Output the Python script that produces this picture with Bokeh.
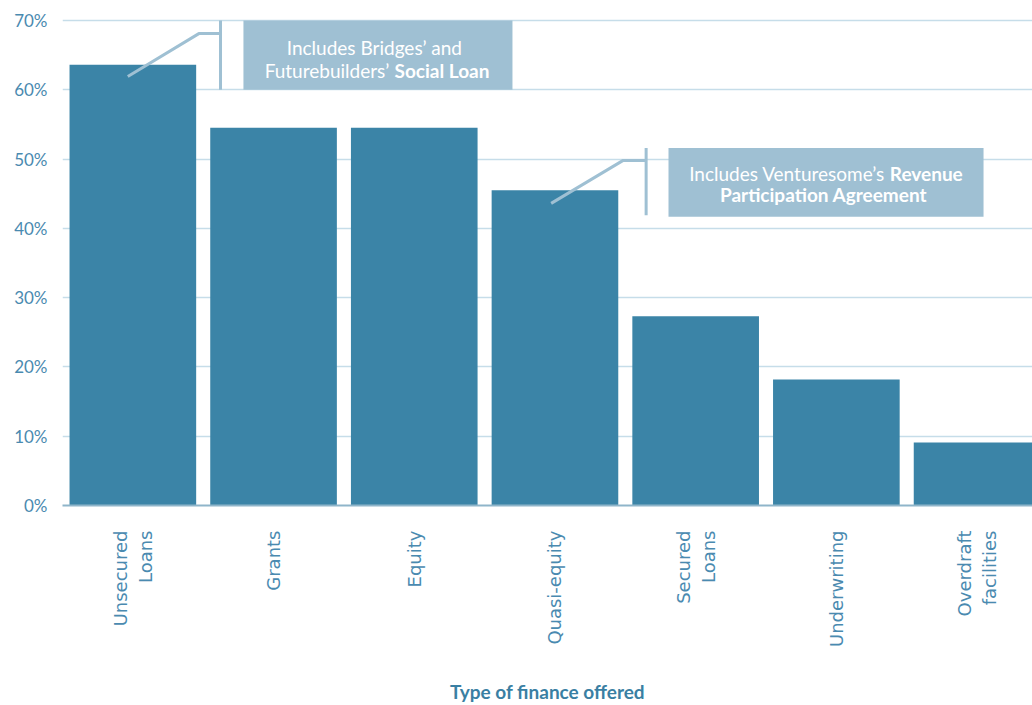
from math import pi

from bokeh.core.properties import value
from bokeh.embed import file_html
from bokeh.models import FixedTicker, PrintfTickFormatter, Range1d
from bokeh.plotting import figure
from bokeh.resources import INLINE

# Share of providers offering each type of finance (%)
categories = ["Unsecured\nLoans", "Grants", "Equity", "Quasi-equity",
              "Secured\nLoans", "Underwriting", "Overdraft\nfacilities"]
share_pct = [63.6, 54.5, 54.5, 45.5, 27.3, 18.2, 9.1]
y_ticks = [0, 10, 20, 30, 40, 50, 60, 70]
x_title = "Type of finance offered"

BAR = "#3b84a7"
BOX = "#9fc0d3"
GRID = "#c6dde9"
TICK_TXT = "#4a8ab0"
CALLOUT_SIZE = "19px"

centers = [i + 0.5 for i in range(len(categories))]

p = figure(width=1032, height=705, output_backend="svg", toolbar_location=None,
           x_range=Range1d(0, 6.894), y_range=Range1d(0, 71),
           min_border_left=62, min_border_right=0, min_border_top=13,
           min_border_bottom=199)
p.outline_line_color = None
p.background_fill_color = "white"

p.vbar(x=centers, top=share_pct, width=0.9, color=BAR, line_color=None)

# axes
p.yaxis.ticker = FixedTicker(ticks=y_ticks)
p.yaxis.formatter = PrintfTickFormatter(format="%d%%")
p.yaxis.axis_line_color = None
p.yaxis.major_tick_line_color = None
p.yaxis.minor_tick_line_color = None
p.yaxis.major_label_standoff = 9
p.yaxis.major_label_text_font = "Lato"
p.yaxis.major_label_text_font_size = "17px"
p.yaxis.major_label_text_color = TICK_TXT

p.xaxis.ticker = FixedTicker(ticks=centers)
p.xaxis.major_label_overrides = {c: lab for c, lab in zip(centers, categories)}
p.xaxis.major_label_orientation = pi / 2
p.xaxis.axis_line_color = "#8fb5ca"
p.xaxis.axis_line_width = 2
p.xaxis.major_tick_line_color = None
p.xaxis.minor_tick_line_color = None
p.xaxis.major_label_standoff = 19
p.xaxis.major_label_text_font = "DejaVu Sans"
p.xaxis.major_label_text_font_size = "18px"
p.xaxis.major_label_text_color = TICK_TXT
p.xaxis.axis_label = x_title
p.xaxis.axis_label_text_font = "Lato"
p.xaxis.axis_label_text_font_style = "bold"
p.xaxis.axis_label_text_font_size = "19px"
p.xaxis.axis_label_text_color = "#3a7fa3"
p.xaxis.axis_label_standoff = 30

p.xgrid.grid_line_color = None
p.ygrid.ticker = FixedTicker(ticks=y_ticks)
p.ygrid.grid_line_color = GRID
p.ygrid.grid_line_width = 1.5

# callout: social loan
p.quad(left=[1.286], right=[3.198], bottom=[60.0], top=[70.0], color=BOX, line_color=None)
p.line(x=[1.123, 1.123], y=[60.0, 70.0], line_color=BOX, line_width=3)
p.line(x=[1.123, 0.969, 0.464], y=[68.1, 68.1, 61.9], line_color=BOX, line_width=3)
p.text(x=[2.217], y=[66.15], text=["Includes Bridges’ and"], text_font=value("Lato"),
       text_font_size=CALLOUT_SIZE, text_color="white", text_align="center",
       text_baseline="middle")
p.text(x=[2.322], y=[62.8], text=["Futurebuilders’"], text_font=value("Lato"),
       text_font_size=CALLOUT_SIZE, text_color="white", text_align="right",
       text_baseline="middle")
p.text(x=[2.36], y=[62.8], text=["Social Loan"], text_font=value("Lato"),
       text_font_size=CALLOUT_SIZE, text_font_style="bold", text_color="white",
       text_align="left", text_baseline="middle")

# callout: revenue participation agreement
p.quad(left=[4.307], right=[6.546], bottom=[41.67], top=[51.6], color=BOX, line_color=None)
p.line(x=[4.148, 4.148], y=[41.9, 51.6], line_color=BOX, line_width=3)
p.line(x=[4.148, 3.985, 3.473], y=[49.8, 49.8, 43.6], line_color=BOX, line_width=3)
p.text(x=[5.845], y=[47.9], text=["Includes Venturesome’s"], text_font=value("Lato"),
       text_font_size=CALLOUT_SIZE, text_color="white", text_align="right",
       text_baseline="middle")
p.text(x=[5.88], y=[47.9], text=["Revenue"], text_font=value("Lato"),
       text_font_size=CALLOUT_SIZE, text_font_style="bold", text_color="white",
       text_align="left", text_baseline="middle")
p.text(x=[5.409], y=[44.9], text=["Participation Agreement"], text_font=value("Lato"),
       text_font_size=CALLOUT_SIZE, text_font_style="bold", text_color="white",
       text_align="center", text_baseline="middle")

open("out.html", "w").write(file_html(p, INLINE))
